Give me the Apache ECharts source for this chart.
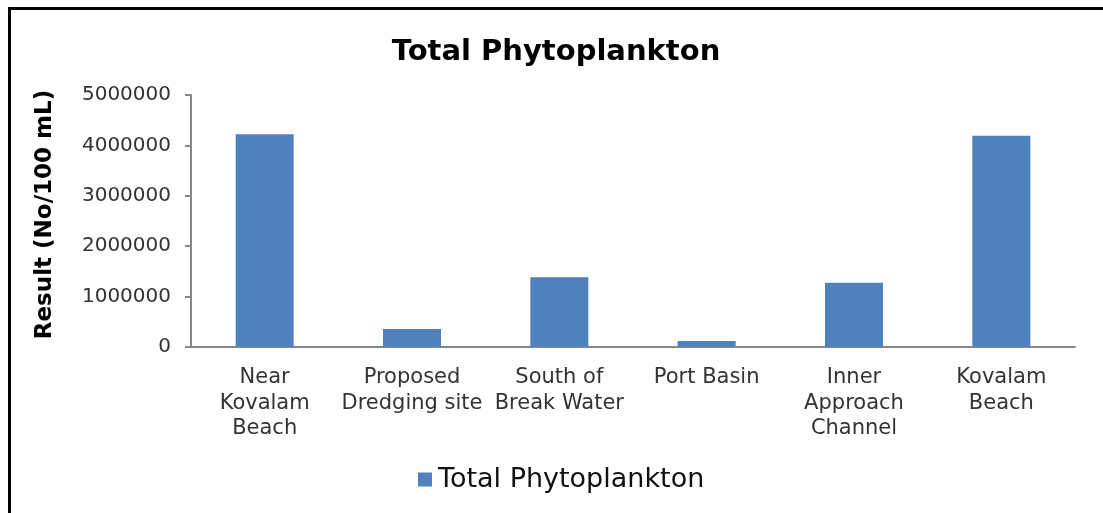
<!DOCTYPE html>
<html>
<head>
<meta charset="utf-8">
<style>
html,body{margin:0;padding:0;background:#fff;}
#chart{width:1103px;height:513px;}
</style>
<script src="https://cdn.jsdelivr.net/npm/echarts@6/dist/echarts.min.js"></script>
</head>
<body>
<div id="chart"></div>
<script>
var categories = ['Near\nKovalam\nBeach', 'Proposed\nDredging site', 'South of\nBreak Water', 'Port Basin', 'Inner\nApproach\nChannel', 'Kovalam\nBeach'];
var values = [4220000, 357000, 1383000, 120000, 1276000, 4190000];
var seriesName = 'Total Phytoplankton';
var titleText = 'Total Phytoplankton';
var yAxisName = 'Result (No/100 mL)';

var chart = echarts.init(document.getElementById('chart'));
chart.setOption({
  animation: false,
  backgroundColor: '#ffffff',
  title: {
    text: titleText,
    left: 551,
    textAlign: 'center',
    top: 33,
    textStyle: {fontFamily: 'DejaVu Sans', fontWeight: 'bold', fontSize: 29, color: '#000'}
  },
  legend: {
    data: [seriesName],
    top: 461,
    left: 413,
    itemWidth: 14,
    itemHeight: 14,
    itemGap: 10,
    icon: 'rect',
    textStyle: {fontFamily: 'DejaVu Sans', fontSize: 27, color: '#111', padding: [0, 0, 0, 1]}
  },
  grid: {left: 191, right: 28, top: 95, bottom: 166, containLabel: false},
  xAxis: {
    type: 'category',
    data: categories,
    axisLine: {lineStyle: {color: '#888', width: 2}},
    axisTick: {show: false},
    axisLabel: {fontFamily: 'DejaVu Sans', fontSize: 21, color: '#333', lineHeight: 25.5, margin: 18, interval: 0}
  },
  yAxis: {
    type: 'value',
    min: 0,
    max: 5000000,
    interval: 1000000,
    name: yAxisName,
    nameLocation: 'middle',
    nameGap: 134,
    nameTextStyle: {fontFamily: 'DejaVu Sans', fontWeight: 'bold', fontSize: 23, color: '#000', padding: [0, 0, 0, 13]},
    axisLine: {show: true, lineStyle: {color: '#888', width: 2}},
    axisTick: {show: true, length: 6, lineStyle: {color: '#888', width: 2}},
    splitLine: {show: false},
    axisLabel: {fontFamily: 'DejaVu Sans', fontSize: 20, color: '#333', margin: 20, formatter: function (v) { return String(v); }}
  },
  series: [{
    name: seriesName,
    type: 'bar',
    data: values,
    barWidth: 58,
    itemStyle: {color: '#4f81bd'}
  }],
  graphic: [
    {type: 'line', shape: {x1: 9, y1: 8.5, x2: 1103, y2: 8.5}, style: {stroke: '#000', lineWidth: 3}},
    {type: 'line', shape: {x1: 9.5, y1: 7, x2: 9.5, y2: 513}, style: {stroke: '#000', lineWidth: 3}}
  ]
});
</script>
</body>
</html>
